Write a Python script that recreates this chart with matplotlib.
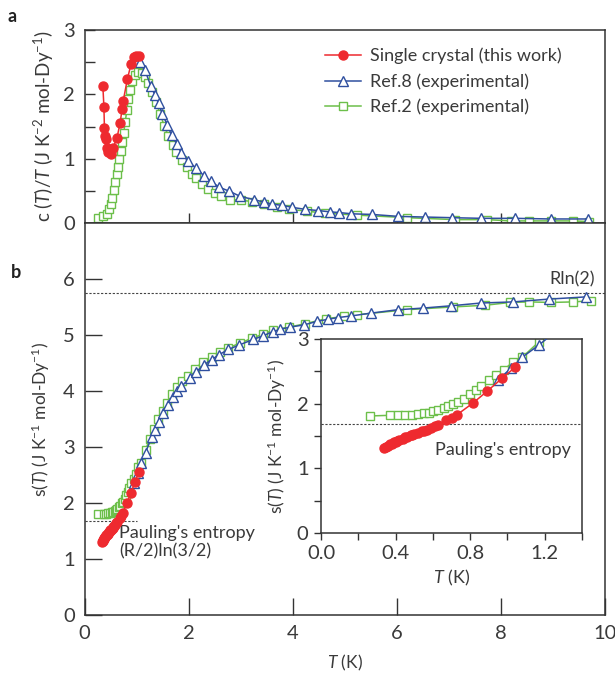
import numpy as np
import matplotlib
matplotlib.use('Agg')
import matplotlib.pyplot as plt
from matplotlib.ticker import MultipleLocator

plt.rcParams['font.family'] = ['Lato', 'DejaVu Sans']
plt.rcParams['mathtext.fontset'] = 'custom'
plt.rcParams['mathtext.rm'] = 'Lato'
plt.rcParams['mathtext.it'] = 'Lato:italic'
plt.rcParams['mathtext.default'] = 'regular'
txt = '#3a3a3a'
plt.rcParams['text.color'] = txt
plt.rcParams['axes.labelcolor'] = txt
plt.rcParams['xtick.color'] = '#333333'
plt.rcParams['ytick.color'] = '#333333'
plt.rcParams['xtick.labelcolor'] = txt
plt.rcParams['ytick.labelcolor'] = txt
plt.rcParams['axes.edgecolor'] = '#333333'

RED = '#ee2a2f'
BLUE = '#2f4f9f'
GREEN = '#6cbf4a'

# ---------------- c(T)/T data ----------------
T_c_red = [0.35, 0.37, 0.38, 0.40, 0.41, 0.42, 0.45, 0.50, 0.54, 0.62, 0.68, 0.72, 0.74,
           0.82, 0.89, 0.95, 0.99, 1.04]
c_red = [2.12, 1.80, 1.47, 1.36, 1.30, 1.16, 1.11, 1.07, 1.16, 1.32, 1.55, 1.77, 1.89,
         2.23, 2.46, 2.58, 2.59, 2.59]

T_c_blue = [1.06, 1.16, 1.27, 1.35, 1.42, 1.49, 1.59, 1.67, 1.77, 1.86, 1.99, 2.14, 2.29,
            2.43, 2.59, 2.78, 2.99, 3.25, 3.45, 3.61, 3.80, 3.99, 4.23, 4.49, 4.72, 4.89,
            5.13, 5.53, 6.03, 6.54, 7.06, 7.63, 8.27, 8.96, 9.67]
c_blue = [2.49, 2.37, 2.13, 1.99, 1.86, 1.70, 1.52, 1.37, 1.23, 1.09, 0.96, 0.86, 0.74,
          0.65, 0.56, 0.50, 0.42, 0.37, 0.33, 0.30, 0.28, 0.25, 0.22, 0.20, 0.18, 0.17,
          0.15, 0.14, 0.11, 0.10, 0.09, 0.08, 0.08, 0.07, 0.07]

T_c_green = [0.26, 0.36, 0.42, 0.47, 0.50, 0.53, 0.56, 0.59, 0.62, 0.64, 0.66, 0.69, 0.72,
             0.75, 0.78, 0.81, 0.84, 0.87, 0.91, 0.96, 1.03, 1.10, 1.16, 1.22, 1.29, 1.37,
             1.45, 1.53, 1.61, 1.69, 1.76, 1.87, 1.96, 2.06, 2.15, 2.26, 2.38, 2.51, 2.63,
             2.79, 3.00, 3.22, 3.45, 3.69, 3.93, 4.28, 4.62, 5.23, 6.20, 7.12, 7.73, 8.19,
             8.55, 8.96, 9.40, 9.70]
c_green = [0.08, 0.11, 0.15, 0.22, 0.30, 0.40, 0.52, 0.64, 0.76, 0.88, 1.00, 1.12, 1.26,
           1.40, 1.57, 1.75, 1.92, 2.06, 2.20, 2.30, 2.34, 2.33, 2.27, 2.18, 2.03, 1.88,
           1.70, 1.51, 1.35, 1.21, 1.11, 0.98, 0.87, 0.77, 0.70, 0.61, 0.54, 0.47, 0.42,
           0.37, 0.36, 0.34, 0.30, 0.26, 0.22, 0.19, 0.16, 0.13, 0.09, 0.06, 0.06, 0.04,
           0.04, 0.04, 0.04, 0.03]

# ---------------- s(T) data ----------------
T_s_red = [0.34, 0.35, 0.36, 0.37, 0.38, 0.39, 0.40, 0.41, 0.42, 0.44, 0.45, 0.46, 0.48,
           0.49, 0.50, 0.52, 0.54, 0.55, 0.57, 0.59, 0.61, 0.63, 0.67, 0.70, 0.73, 0.815,
           0.89, 0.97, 1.04]
s_red = [1.31, 1.33, 1.35, 1.37, 1.38, 1.40, 1.41, 1.43, 1.44, 1.46, 1.48, 1.49, 1.51,
         1.52, 1.53, 1.55, 1.57, 1.58, 1.60, 1.62, 1.65, 1.67, 1.74, 1.78, 1.83, 2.01,
         2.19, 2.39, 2.56]

T_s_blue = [0.95, 1.02, 1.08, 1.17, 1.29, 1.35, 1.43, 1.51, 1.61, 1.69, 1.78, 1.86, 2.02,
            2.14, 2.29, 2.44, 2.59, 2.76, 2.97, 3.24, 3.42, 3.62, 3.76, 3.95, 4.22, 4.46,
            4.68, 4.87, 5.13, 5.51, 6.02, 6.51, 7.04, 7.62, 8.24, 8.93, 9.65]
s_blue = [2.37, 2.55, 2.72, 2.91, 3.19, 3.32, 3.46, 3.61, 3.76, 3.91, 4.00, 4.09, 4.24,
          4.35, 4.47, 4.57, 4.66, 4.75, 4.83, 4.93, 4.99, 5.07, 5.11, 5.15, 5.19, 5.25,
          5.29, 5.32, 5.35, 5.40, 5.46, 5.49, 5.53, 5.58, 5.60, 5.65, 5.69]

T_s_green = [0.26, 0.37, 0.415, 0.45, 0.49, 0.52, 0.55, 0.58, 0.60, 0.63, 0.657, 0.68,
             0.71, 0.736, 0.766, 0.80, 0.83, 0.86, 0.90, 0.94, 0.98, 1.03, 1.08, 1.17,
             1.25, 1.33, 1.41, 1.50, 1.58, 1.68, 1.78, 1.88, 1.98, 2.12, 2.28, 2.44, 2.60,
             2.76, 2.98, 3.21, 3.42, 3.63, 3.93, 4.24, 4.64, 4.98, 5.23, 6.19, 7.08, 7.70,
             8.18, 8.55, 8.96, 9.40, 9.73]
s_green = [1.81, 1.82, 1.82, 1.83, 1.83, 1.84, 1.85, 1.86, 1.88, 1.91, 1.94, 1.96, 2.00,
           2.03, 2.08, 2.15, 2.21, 2.28, 2.36, 2.44, 2.52, 2.65, 2.72, 2.96, 3.15, 3.33,
           3.50, 3.66, 3.80, 3.95, 4.08, 4.19, 4.28, 4.41, 4.53, 4.62, 4.71, 4.78, 4.86,
           4.95, 5.02, 5.10, 5.15, 5.21, 5.30, 5.34, 5.37, 5.46, 5.51, 5.54, 5.59, 5.60,
           5.59, 5.60, 5.62]

R = 8.314
S_RLN2 = R * np.log(2)
S_PAULING = R / 2 * np.log(1.5)

labels = ['Single crystal (this work)', 'Ref.8 (experimental)', 'Ref.2 (experimental)']

fig = plt.figure(figsize=(6.15, 6.74), dpi=100)
ax1 = fig.add_axes([0.1377, 0.6684, 0.8455, 0.2878])
ax2 = fig.add_axes([0.1377, 0.0868, 0.8455, 0.5816])
ax3 = fig.add_axes([0.522, 0.2092, 0.4244, 0.2878])


def draw(ax, Tg, g, Tb, b, Tr, r, with_label=False):
    ax.plot(Tg, g, '-s', color=GREEN, mfc='white', mec=GREEN, ms=6, mew=1.0, lw=1.1,
            label=labels[2] if with_label else None, zorder=2)
    ax.plot(Tb, b, '-^', color=BLUE, mfc='white', mec=BLUE, ms=7, mew=1.0, lw=1.1,
            label=labels[1] if with_label else None, zorder=3)
    ax.plot(Tr, r, '-o', color=RED, mfc=RED, mec=RED, ms=6.5, lw=1.1,
            label=labels[0] if with_label else None, zorder=4)


# ---- panel a ----
draw(ax1, T_c_green, c_green, T_c_blue, c_blue, T_c_red, c_red, with_label=True)
ax1.set_xlim(0, 10)
ax1.set_ylim(0, 3)
ax1.set_xticks([2, 4, 6, 8])
ax1.set_xticklabels([])
ax1.yaxis.set_major_locator(MultipleLocator(1))
ax1.yaxis.set_minor_locator(MultipleLocator(0.5))
ax1.tick_params(direction='in', length=7, width=1, labelsize=14.5, pad=7)
ax1.tick_params(which='minor', direction='in', length=7, width=1)
ax1.set_ylabel(r'c ($\it{T}$)/$\it{T}$ (J K$^{-2}$ mol-Dy$^{-1}$)', fontsize=13.5, labelpad=5)
h, l = ax1.get_legend_handles_labels()
ax1.legend([h[2], h[1], h[0]], [l[2], l[1], l[0]], loc='upper left',
           bbox_to_anchor=(0.43, 0.99), frameon=False, fontsize=13,
           handlelength=2.0, handletextpad=0.5, labelspacing=0.5)

# ---- panel b ----
draw(ax2, T_s_green, s_green, T_s_blue, s_blue, T_s_red, s_red)
ax2.axhline(S_RLN2, color='#444444', ls=(0, (2, 1.5)), lw=0.8, zorder=1)
ax2.plot([0, 1.0], [S_PAULING, S_PAULING], color='#444444', ls=(0, (2, 1.5)), lw=0.8, zorder=1)
ax2.set_xlim(0, 10)
ax2.set_ylim(0, 7)
ax2.set_xticks([0, 2, 4, 6, 8, 10])
ax2.set_yticks([0, 1, 2, 3, 4, 5, 6])
ax2.tick_params(direction='in', length=12, width=1, labelsize=14.5, pad=7)
ax2.set_ylabel(r's($\it{T}$) (J K$^{-1}$ mol-Dy$^{-1}$)', fontsize=12.5, labelpad=8)
ax2.set_xlabel(r'$\it{T}$ (K)', fontsize=12.5, labelpad=8)
ax2.text(9.82, 5.86, 'Rln(2)', ha='right', va='bottom', fontsize=13)
ax2.text(0.66, 1.62, "Pauling's entropy\n(R/2)ln(3/2)", ha='left', va='top', fontsize=13,
         linespacing=1.2)

# ---- inset ----
draw(ax3, T_s_green, s_green, T_s_blue, s_blue, T_s_red, s_red)
ax3.axhline(S_PAULING, color='#444444', ls=(0, (2, 1.5)), lw=0.8, zorder=1)
ax3.set_xlim(0, 1.4)
ax3.set_ylim(0, 3)
ax3.xaxis.set_major_locator(MultipleLocator(0.4))
ax3.xaxis.set_minor_locator(MultipleLocator(0.2))
ax3.yaxis.set_major_locator(MultipleLocator(1))
ax3.yaxis.set_minor_locator(MultipleLocator(0.5))
ax3.set_xticks([0.0, 0.4, 0.8, 1.2])
ax3.set_xticklabels(['0.0', '0.4', '0.8', '1.2'])
ax3.tick_params(direction='out', length=5, width=1, labelsize=14.5, pad=4)
ax3.tick_params(which='minor', direction='out', length=5, width=1)
ax3.set_ylabel(r's($\it{T}$) (J K$^{-1}$ mol-Dy$^{-1}$)', fontsize=12.5, labelpad=6)
ax3.set_xlabel(r'$\it{T}$ (K)', fontsize=13, labelpad=4)
ax3.text(1.34, 1.29, "Pauling's entropy", ha='right', va='center', fontsize=13)

for ax in (ax1, ax2, ax3):
    for sp in ax.spines.values():
        sp.set_linewidth(1.1)

fig.text(0.012, 0.967, 'a', fontsize=13, fontweight='bold', color='#222222')
fig.text(0.017, 0.588, 'b', fontsize=13, fontweight='bold', color='#222222')

fig.savefig('out.png', dpi=100)
